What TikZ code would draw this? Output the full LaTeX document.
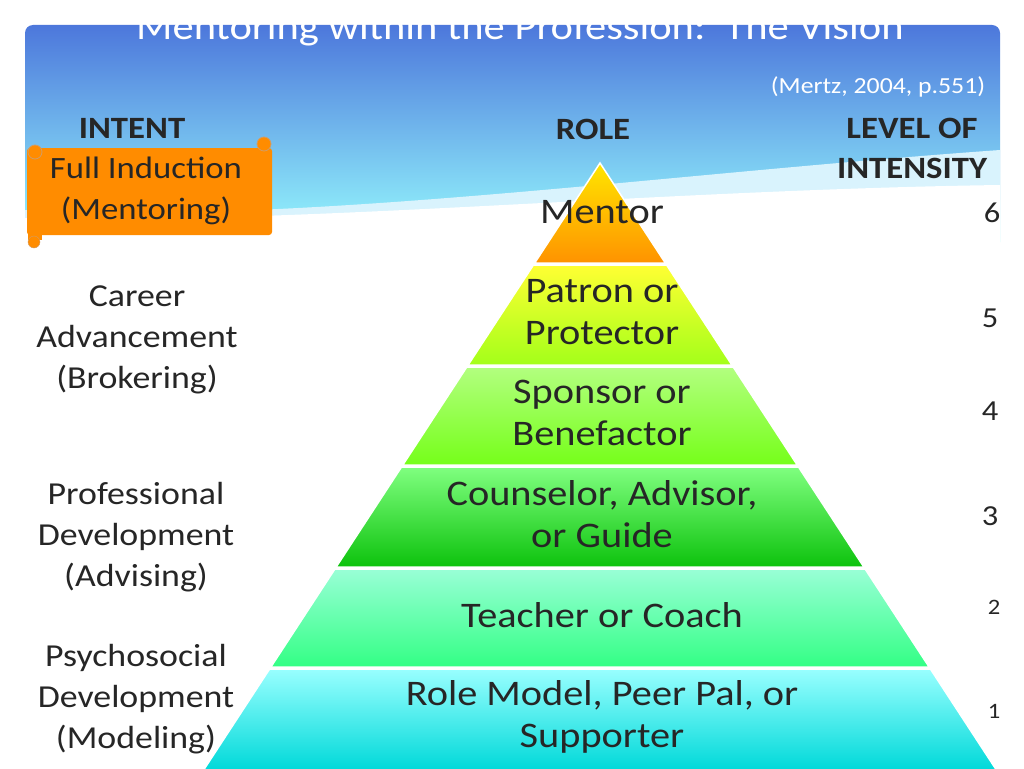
\documentclass[tikz,border=0pt]{standalone}
\usepackage{fontspec}
\setmainfont[FakeStretch=1.12]{Carlito}
\begin{document}
\begin{tikzpicture}[x=1pt,y=-1pt,
  lab/.style={align=center,text=black!85},
  head/.style={font=\bfseries\fontsize{31}{40}\selectfont,align=center,text=black!85},
  num/.style={font=\fontsize{29}{34}\selectfont,text=black!85},
  layer/.style={draw=white,line width=1.5pt}]
\useasboundingbox (0,0) rectangle (1024,768);
\fill[white] (0,0) rectangle (1024,768);
% sky banner
\shade[top color=blue!70!cyan!80!black!70, bottom color=cyan!40, rounded corners=8pt] (25,25) rectangle (1000,250);
\fill[cyan!15] (25,210) .. controls (300,225) and (650,175) .. (1000,150) -- (1000,200) .. controls (700,210) and (400,215) .. (25,222) -- cycle;
\fill[white] (25,218) .. controls (300,225) and (650,190) .. (1000,185) -- (1000,252) -- (25,252) -- cycle;
\node[text=white,font=\fontsize{38}{44}\selectfont] (title) at (520,30) {Mentoring within the Profession:\ \ The Vision};
\node[text=white,font=\fontsize{23}{28}\selectfont] (cite) at (878,87) {(Mertz, 2004, p.551)};
% headings
\node[head] (intent) at (132,128) {INTENT};
\node[head] (role) at (593,129) {ROLE};
\node[head] (level) at (912,148) {LEVEL OF\\INTENSITY};
% scroll
\fill[orange!90!yellow,rounded corners=3pt] (27,148) rectangle (272,235);
\draw[orange!70!black!60,line width=0.8pt,fill=orange!90!yellow] (35,152) circle (7);
\draw[orange!70!black!60,line width=0.8pt,fill=orange!90!yellow] (264,144) circle (7);
\fill[orange!90!yellow] (28,160) rectangle (42,240);
\draw[orange!70!black!60,fill=orange!90!yellow] (34,242) circle (6);
\node[lab,font=\fontsize{31}{41}\selectfont] (induct) at (146,191) {Full Induction\\(Mentoring)};
% pyramid layers
\def\L#1{600-0.653*(#1-163)}
\def\R#1{600+0.653*(#1-163)}
\shade[layer,top color=yellow!80!orange, bottom color=orange!85!yellow] (600,163) -- ({\R{263}},263) -- ({\L{263}},263) -- cycle;
\shade[layer,top color=yellow!80!white, bottom color=yellow!60!green!90] ({\L{265}},265) -- ({\R{265}},265) -- ({\R{365}},365) -- ({\L{365}},365) -- cycle;
\shade[layer,top color=yellow!40!green!50, bottom color=green!60!yellow!90] ({\L{367}},367) -- ({\R{367}},367) -- ({\R{465}},465) -- ({\L{465}},465) -- cycle;
\shade[layer,top color=green!50, bottom color=green!75!black!95] ({\L{467}},467) -- ({\R{467}},467) -- ({\R{567}},567) -- ({\L{567}},567) -- cycle;
\shade[layer,top color=green!40!cyan!40, bottom color=green!60!cyan!80] ({\L{569}},569) -- ({\R{569}},569) -- ({\R{667}},667) -- ({\L{667}},667) -- cycle;
\shade[layer,top color=cyan!40, bottom color=cyan!70!teal] ({\L{669}},669) -- ({\R{669}},669) -- ({\R{770}},770) -- ({\L{770}},770) -- cycle;
% roles
\begin{scope}[every node/.style={lab,font=\fontsize{36}{42}\selectfont}]
\node (r6) at (602,212) {Mentor};
\node (r5) at (602,312) {Patron or\\Protector};
\node (r4) at (602,413) {Sponsor or\\Benefactor};
\node (r3) at (602,514) {Counselor, Advisor,\\or Guide};
\node (r2) at (602,615) {Teacher or Coach};
\node (r1) at (602,717) {Role Model, Peer Pal, or\\Supporter};
\end{scope}
% intents
\begin{scope}[every node/.style={lab,font=\fontsize{32}{41}\selectfont}]
\node (i5) at (137,340) {Career\\Advancement\\(Brokering)};
\node (i3) at (136,537) {Professional\\Development\\(Advising)};
\node (i1) at (136,699) {Psychosocial\\Development\\(Modeling)};
\end{scope}
% levels
\node[num] (n6) at (992,213) {6};
\node[num] (n5) at (990,318) {5};
\node[num] (n4) at (990,411) {4};
\node[num] (n3) at (990,516) {3};
\node[num,font=\fontsize{22}{26}\selectfont] (n2) at (994,607) {2};
\node[num,font=\fontsize{22}{26}\selectfont] (n1) at (994,711) {1};
\end{tikzpicture}
\end{document}
